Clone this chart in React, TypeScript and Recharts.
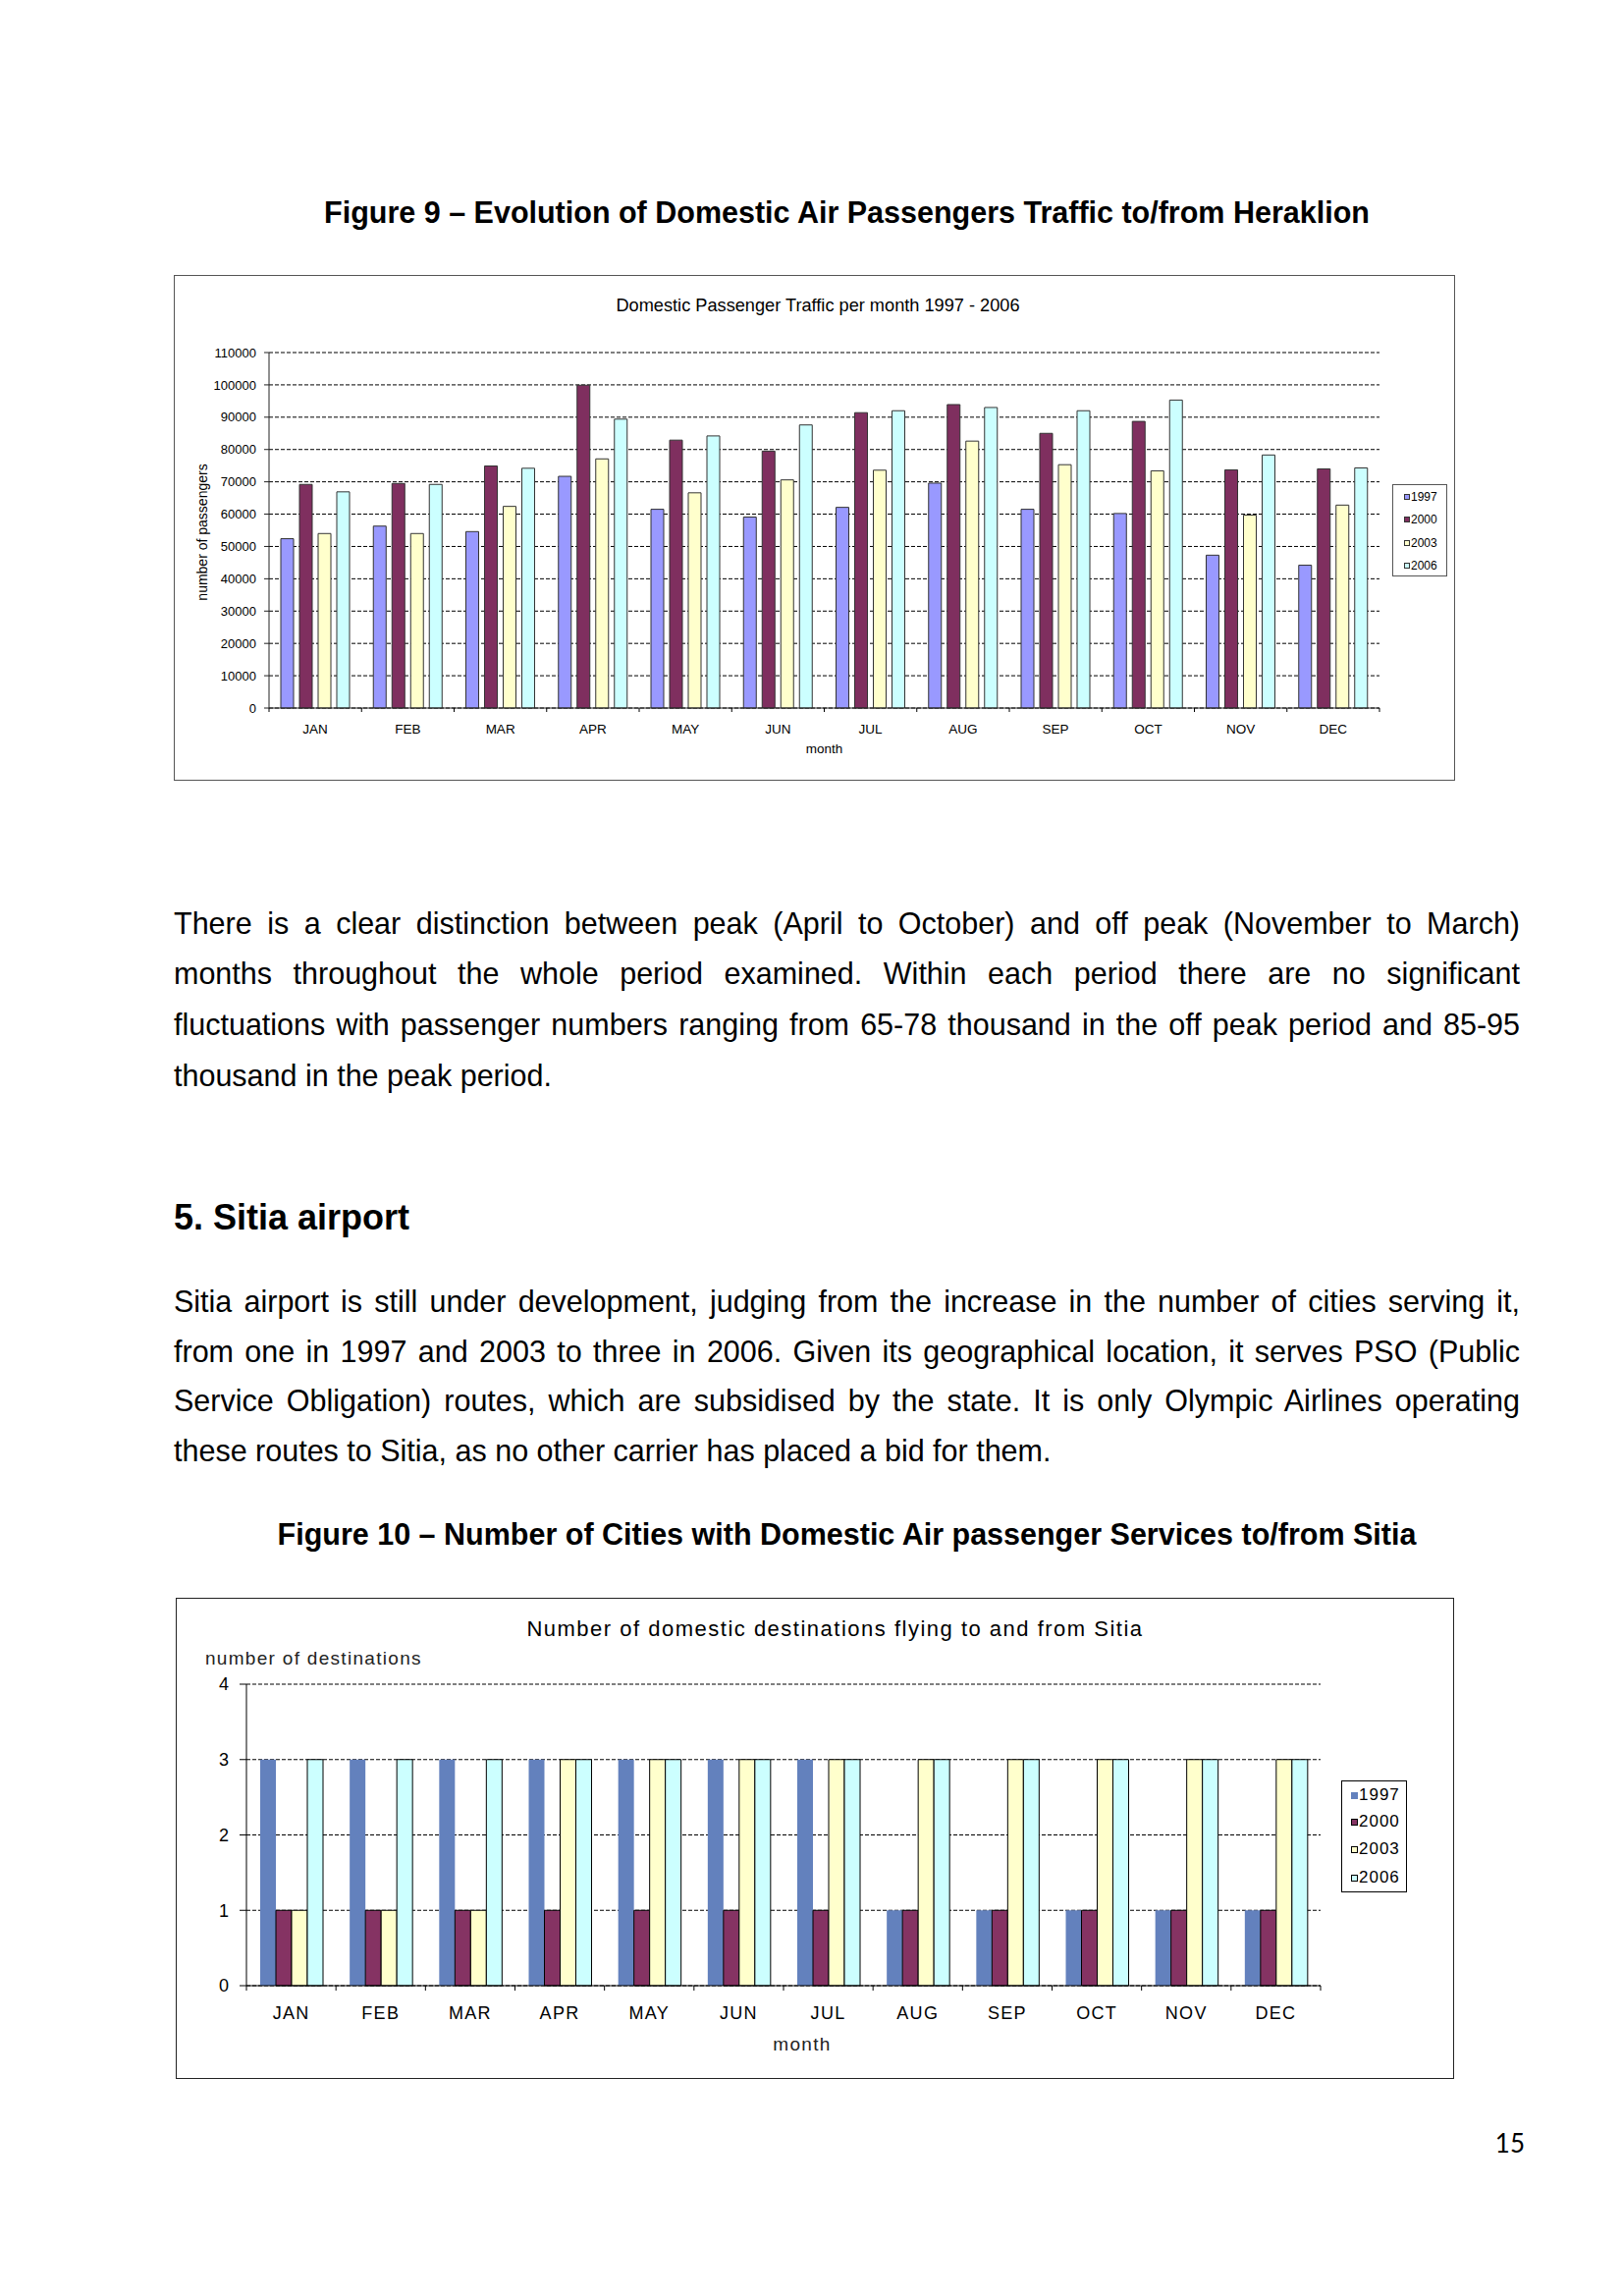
import { BarChart, Bar, XAxis, YAxis, CartesianGrid, Label } from 'recharts';

const MONTHS = ['JAN', 'FEB', 'MAR', 'APR', 'MAY', 'JUN', 'JUL', 'AUG', 'SEP', 'OCT', 'NOV', 'DEC'];
const YEARS = ['1997', '2000', '2003', '2006'];

// Figure 9 - Heraklion, passengers per month
const PAX_1997 = [52400, 56300, 54600, 71700, 61500, 59100, 62100, 69600, 61500, 60200, 47300, 44200];
const PAX_2000 = [69200, 69500, 74900, 99900, 82900, 79500, 91400, 93900, 85000, 88700, 73700, 74000];
const PAX_2003 = [54000, 54000, 62400, 77100, 66600, 70600, 73600, 82600, 75300, 73400, 59700, 62800];
const PAX_2006 = [66900, 69200, 74200, 89400, 84200, 87600, 92000, 93000, 92000, 95300, 78300, 74300];
const PAX_TICKS = [0, 10000, 20000, 30000, 40000, 50000, 60000, 70000, 80000, 90000, 100000, 110000];

// Figure 10 - Sitia, number of destinations
const DEST_1997 = [3, 3, 3, 3, 3, 3, 3, 1, 1, 1, 1, 1];
const DEST_2000 = [1, 1, 1, 1, 1, 1, 1, 1, 1, 1, 1, 1];
const DEST_2003 = [1, 1, 1, 3, 3, 3, 3, 3, 3, 3, 3, 3];
const DEST_2006 = [3, 3, 3, 3, 3, 3, 3, 3, 3, 3, 3, 3];
const DEST_TICKS = [0, 1, 2, 3, 4];

const heraklionData = MONTHS.map((m, i) => ({
  month: m,
  y1997: PAX_1997[i],
  y2000: PAX_2000[i],
  y2003: PAX_2003[i],
  y2006: PAX_2006[i],
}));

const sitiaData = MONTHS.map((m, i) => ({
  month: m,
  y1997: DEST_1997[i],
  y2000: DEST_2000[i],
  y2003: DEST_2003[i],
  y2006: DEST_2006[i],
}));

const COLORS_1 = ['#9999ff', '#7f2f5f', '#ffffcc', '#ccffff'];
const COLORS_2 = ['#6381bd', '#853363', '#ffffcc', '#ccffff'];
const STROKES_2 = ['none', '#000', '#000', '#000'];

const FONT = '"Liberation Sans", Arial, sans-serif';

// chart 1 layout
const C1_W = 1305;
const C1_H = 515;
const C1_MARGIN = { top: 79, right: 77, bottom: 28, left: 37 };
const C1_YAXIS_W = 60;
const C1_XAXIS_H = 46;
const C1_BAND = (C1_W - C1_MARGIN.left - C1_YAXIS_W - C1_MARGIN.right) / MONTHS.length;

// chart 2 layout
const C2_W = 1302;
const C2_H = 490;
const C2_MARGIN = { top: 88, right: 136, bottom: 29, left: 22 };
const C2_YAXIS_W = 50;
const C2_XAXIS_H = 66;
const C2_BAND = (C2_W - C2_MARGIN.left - C2_YAXIS_W - C2_MARGIN.right) / MONTHS.length;

// month tick with Excel-style tick marks between categories
function makeMonthTick(band: number, labelOffset: number, tickLen: number, fontSize: number, spacing: number) {
  return (props: any) => {
    const { x, y, payload, index } = props;
    const left = x - band / 2;
    const right = x + band / 2;
    return (
      <g>
        <line x1={left} y1={y} x2={left} y2={y + tickLen} stroke="#000" />
        {index === MONTHS.length - 1 && <line x1={right} y1={y} x2={right} y2={y + tickLen} stroke="#000" />}
        <text
          x={x}
          y={y + labelOffset}
          dy="0.35em"
          textAnchor="middle"
          fontSize={fontSize}
          fill="#000"
          style={{ letterSpacing: spacing }}
        >
          {payload.value}
        </text>
      </g>
    );
  };
}

function LegendBox(props: any) {
  const { left, top, width, height, rows, markerLeft, markerSize, fontSize, spacing, colors, strokes, border } = props;
  return (
    <div
      style={{
        position: 'absolute',
        left,
        top,
        width,
        height,
        border: `1px solid ${border}`,
        boxSizing: 'border-box',
        background: '#fff',
      }}
    >
      {YEARS.map((yr, i) => (
        <div
          key={yr}
          style={{
            position: 'absolute',
            left: markerLeft,
            top: rows[i] - 10,
            height: 20,
            display: 'flex',
            alignItems: 'center',
            fontSize,
            letterSpacing: spacing,
            whiteSpace: 'nowrap',
          }}
        >
          <span
            style={{
              display: 'inline-block',
              width: markerSize,
              height: markerSize,
              background: colors[i],
              border: strokes[i] === 'none' ? 'none' : `1px solid ${strokes[i]}`,
              boxSizing: 'border-box',
              marginRight: 1,
            }}
          />
          {yr}
        </div>
      ))}
    </div>
  );
}

const Tick1 = makeMonthTick(C1_BAND, 21, 4, 13.5, 0);
const Tick2 = makeMonthTick(C2_BAND, 28, 5, 18, 1.3);

function HeraklionChart() {
  return (
    <div style={{ position: 'absolute', left: 177, top: 280, width: C1_W, height: C1_H }}>
      <div style={{ position: 'absolute', inset: 0, border: '1.5px solid #555', boxSizing: 'border-box' }} />
      <div style={{ position: 'absolute', left: 0, top: 20, width: 1312, textAlign: 'center', fontSize: 18.2, lineHeight: '22px' }}>
        Domestic Passenger Traffic per month 1997 - 2006
      </div>
      <div
        style={{
          position: 'absolute',
          left: 29 - 100,
          top: 262 - 9,
          width: 200,
          height: 18,
          lineHeight: '18px',
          textAlign: 'center',
          fontSize: 14,
          transform: 'rotate(-90deg)',
        }}
      >
        number of passengers
      </div>
      <div style={{ position: 'absolute', left: 0, top: 0 }}>
        <BarChart
          width={C1_W}
          height={C1_H}
          data={heraklionData}
          margin={C1_MARGIN}
          barSize={13}
          barGap={6}
        >
          <CartesianGrid vertical={false} stroke="#000" strokeDasharray="4 2" />
          <XAxis
            dataKey="month"
            interval={0}
            height={C1_XAXIS_H}
            tickSize={0}
            tickMargin={0}
            tickLine={false}
            axisLine={{ stroke: '#222' }}
            tick={Tick1}
          >
            <Label value="month" position="insideBottom" offset={0} fontSize={13.5} fill="#000" />
          </XAxis>
          <YAxis
            width={C1_YAXIS_W}
            domain={[0, 110000]}
            ticks={PAX_TICKS}
            interval={0}
            tickSize={5}
            tickMargin={8}
            axisLine={{ stroke: '#222' }}
            tickLine={{ stroke: '#222' }}
            tick={{ fontSize: 13, fill: '#000' }}
          />
          {YEARS.map((yr, i) => (
            <Bar
              key={yr}
              dataKey={`y${yr}`}
              name={yr}
              fill={COLORS_1[i]}
              stroke="#333"
              strokeWidth={1}
              isAnimationActive={false}
            />
          ))}
        </BarChart>
      </div>
      <LegendBox
        left={1241}
        top={213}
        width={56}
        height={94}
        rows={[12, 35, 59, 82]}
        markerLeft={11}
        markerSize={6}
        fontSize={12}
        spacing={0}
        colors={COLORS_1}
        strokes={['#333', '#333', '#333', '#333']}
        border="#555"
      />
    </div>
  );
}

function SitiaChart() {
  return (
    <div style={{ position: 'absolute', left: 179, top: 1627, width: C2_W, height: C2_H }}>
      <div style={{ position: 'absolute', inset: 0, border: '1.5px solid #222', boxSizing: 'border-box' }} />
      <div
        style={{
          position: 'absolute',
          left: 0,
          top: 32 - 13,
          width: 1343,
          textAlign: 'center',
          fontSize: 22,
          lineHeight: '26px',
          letterSpacing: 1.5,
        }}
      >
        Number of domestic destinations flying to and from Sitia
      </div>
      <div
        style={{
          position: 'absolute',
          left: 30,
          top: 62 - 11,
          fontSize: 19,
          lineHeight: '22px',
          letterSpacing: 1.3,
          color: '#222',
        }}
      >
        number of destinations
      </div>
      <div style={{ position: 'absolute', left: 0, top: 0 }}>
        <BarChart
          width={C2_W}
          height={C2_H}
          data={sitiaData}
          margin={C2_MARGIN}
          barSize={16}
          barGap={0}
        >
          <CartesianGrid vertical={false} stroke="#000" strokeDasharray="4 2" />
          <XAxis
            dataKey="month"
            interval={0}
            height={C2_XAXIS_H}
            tickSize={0}
            tickMargin={0}
            tickLine={false}
            axisLine={{ stroke: '#000' }}
            tick={Tick2}
          >
            <Label value="month" position="insideBottom" offset={0} dx={19} fontSize={19} fill="#222" letterSpacing={1.3} />
          </XAxis>
          <YAxis
            width={C2_YAXIS_W}
            domain={[0, 4]}
            ticks={DEST_TICKS}
            interval={0}
            tickSize={7}
            tickMargin={11}
            axisLine={{ stroke: '#000' }}
            tickLine={{ stroke: '#000' }}
            tick={{ fontSize: 18, fill: '#000' }}
          />
          {YEARS.map((yr, i) => (
            <Bar
              key={yr}
              dataKey={`y${yr}`}
              name={yr}
              fill={COLORS_2[i]}
              stroke={STROKES_2[i]}
              strokeWidth={1}
              isAnimationActive={false}
            />
          ))}
        </BarChart>
      </div>
      <LegendBox
        left={1187}
        top={186}
        width={67}
        height={114}
        rows={[14, 41, 69, 98]}
        markerLeft={9}
        markerSize={7}
        fontSize={17}
        spacing={1}
        colors={COLORS_2}
        strokes={STROKES_2}
        border="#000"
      />
    </div>
  );
}

const PARA_1 = [
  'There is a clear distinction between peak (April to October) and off peak (November to March)',
  'months throughout the whole period examined. Within each period there are no significant',
  'fluctuations with passenger numbers ranging from 65-78 thousand in the off peak period and 85-95',
  'thousand in the peak period.',
];

const PARA_2 = [
  'Sitia airport is still under development, judging from the increase in the number of cities serving it,',
  'from one in 1997 and 2003 to three in 2006. Given its geographical location, it serves PSO (Public',
  'Service Obligation) routes, which are subsidised by the state. It is only Olympic Airlines operating',
  'these routes to Sitia, as no other carrier has placed a bid for them.',
];

function Paragraph(props: any) {
  const { lines, top, lineHeight } = props;
  return (
    <div style={{ position: 'absolute', left: 177, top, width: 1371, fontSize: 30.5, lineHeight: `${lineHeight}px` }}>
      {lines.map((l: string, i: number) => (
        <div
          key={i}
          style={{
            textAlign: i === lines.length - 1 ? 'left' : 'justify',
            textAlignLast: i === lines.length - 1 ? 'left' : 'justify',
            whiteSpace: 'nowrap',
          }}
        >
          {l}
        </div>
      ))}
    </div>
  );
}

export default function App() {
  return (
    <div
      style={{
        position: 'absolute',
        left: 0,
        top: 0,
        width: 1652,
        height: 2338,
        background: '#fff',
        fontFamily: FONT,
        color: '#000',
        overflow: 'hidden',
      }}
    >
      <div style={{ position: 'absolute', left: 177, top: 196.4, width: 1371, textAlign: 'center', fontSize: 30.5, fontWeight: 'bold', lineHeight: '40px' }}>
        Figure 9 – Evolution of Domestic Air Passengers Traffic to/from Heraklion
      </div>

      <HeraklionChart />

      <Paragraph lines={PARA_1} top={914.6} lineHeight={51.7} />

      <div style={{ position: 'absolute', left: 177, top: 1217.5, fontSize: 36, fontWeight: 'bold', lineHeight: '44px' }}>
        5. Sitia airport
      </div>

      <Paragraph lines={PARA_2} top={1300} lineHeight={50.7} />

      <div style={{ position: 'absolute', left: 177, top: 1542.4, width: 1371, textAlign: 'center', fontSize: 30.5, fontWeight: 'bold', lineHeight: '40px' }}>
        Figure 10 – Number of Cities with Domestic Air passenger Services to/from Sitia
      </div>

      <SitiaChart />

      <div style={{ position: 'absolute', left: 1400, top: 2167, width: 153, textAlign: 'right', fontFamily: 'Lato, sans-serif', fontSize: 26, lineHeight: '30px' }}>
        15
      </div>
    </div>
  );
}
